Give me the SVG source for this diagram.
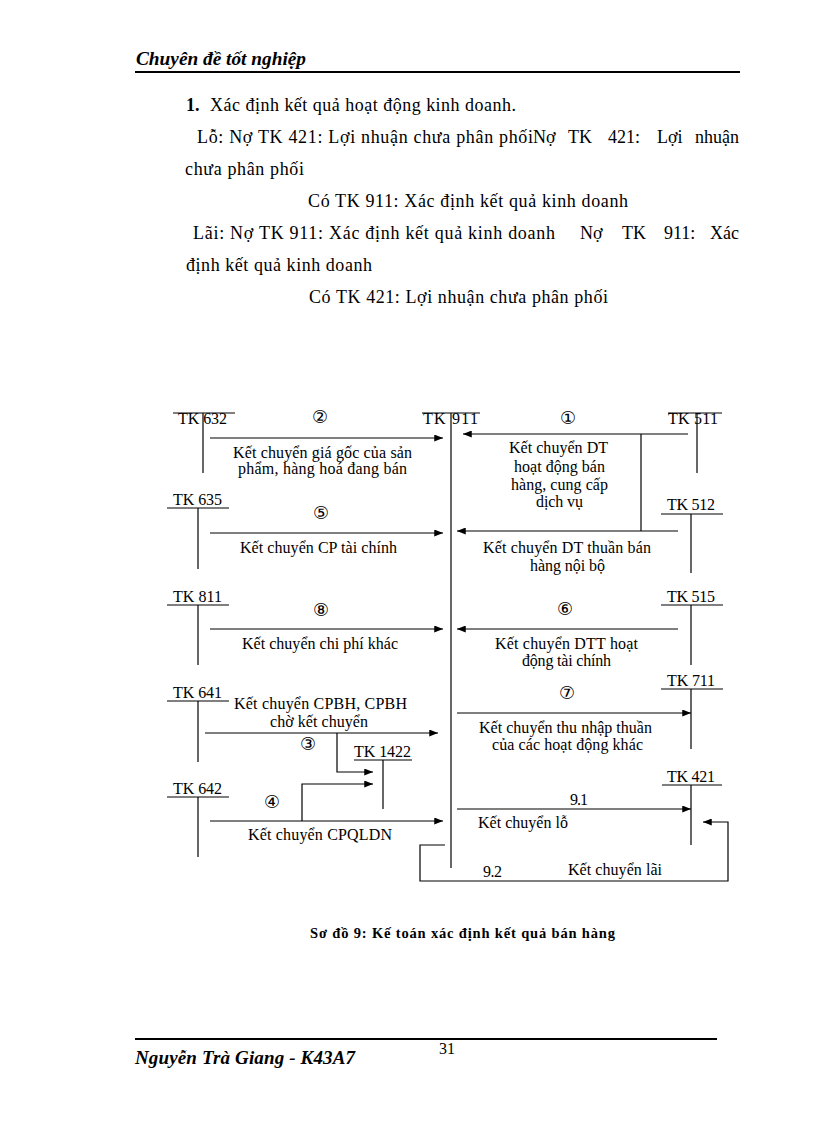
<svg xmlns="http://www.w3.org/2000/svg" width="816" height="1123" viewBox="0 0 816 1123">
<defs>
<marker id="ah" viewBox="0 0 10 8" refX="10" refY="4" markerWidth="9" markerHeight="7" markerUnits="userSpaceOnUse" orient="auto">
<path d="M0,0 L10,4 L0,8 z" fill="#000"/>
</marker>
<style>
text{font-family:"Liberation Serif","Times New Roman",serif;fill:#000}
.p{font-size:18px}
.d{font-size:16px}
.c{font-family:"DejaVu Sans",sans-serif;font-size:18px;text-anchor:middle}
.ln{stroke:#000;stroke-width:1.2;fill:none}
.ar{stroke:#000;stroke-width:1.2;fill:none;marker-end:url(#ah)}
.rule{stroke:#000;stroke-width:2}
</style>
</defs>
<rect width="816" height="1123" fill="#fff"/>

<g id="header">
<text x="136" y="65" font-size="18" font-weight="bold" font-style="italic" textLength="170" lengthAdjust="spacingAndGlyphs">Chuyên đề tốt nghiệp</text>
<line class="rule" x1="135" y1="72" x2="740" y2="72"/>
</g>

<g id="body" class="p">
<text x="186" y="111" font-weight="bold">1.</text>
<text x="210" y="111" textLength="306">Xác định kết quả hoạt động kinh doanh.</text>
<text x="197" y="143" textLength="336">Lỗ: Nợ TK 421: Lợi nhuận chưa phân phối</text>
<text x="533" y="143">Nợ</text>
<text x="568" y="143">TK</text>
<text x="608" y="143">421:</text>
<text x="657" y="143">Lợi</text>
<text x="739" y="143" text-anchor="end">nhuận</text>
<text x="185" y="175" textLength="119">chưa phân phối</text>
<text x="308" y="207" textLength="320">Có TK 911: Xác định kết quả kinh doanh</text>
<text x="193" y="239" textLength="362">Lãi: Nợ TK 911: Xác định kết quả kinh doanh</text>
<text x="580" y="239">Nợ</text>
<text x="622" y="239">TK</text>
<text x="664" y="239">911:</text>
<text x="739" y="239" text-anchor="end">Xác</text>
<text x="186" y="271" textLength="186">định kết quả kinh doanh</text>
<text x="309" y="303" textLength="299">Có TK 421: Lợi nhuận chưa phân phối</text>
</g>

<g id="tk632" class="d">
<line class="ln" x1="173" y1="413" x2="235" y2="413"/>
<line class="ln" x1="203" y1="413" x2="203" y2="473"/>
<text x="178" y="424" textLength="49">TK 632</text>
</g>
<g id="tk911" class="d">
<line class="ln" x1="422" y1="413" x2="480" y2="413"/>
<line class="ln" x1="451" y1="413" x2="451" y2="868"/>
<text x="423" y="424" textLength="55">TK 911</text>
</g>
<g id="tk511" class="d">
<line class="ln" x1="668" y1="413" x2="722" y2="413"/>
<line class="ln" x1="697" y1="413" x2="697" y2="473"/>
<text x="668" y="424" textLength="50">TK 511</text>
</g>
<g id="tk635" class="d">
<line class="ln" x1="167" y1="508" x2="229" y2="508"/>
<line class="ln" x1="198" y1="508" x2="198" y2="569"/>
<text x="173" y="505" textLength="49">TK 635</text>
</g>
<g id="tk512" class="d">
<line class="ln" x1="661" y1="514" x2="723" y2="514"/>
<line class="ln" x1="691" y1="514" x2="691" y2="573"/>
<text x="667" y="510" textLength="48">TK 512</text>
</g>
<g id="tk811" class="d">
<line class="ln" x1="167" y1="605" x2="229" y2="605"/>
<line class="ln" x1="198" y1="605" x2="198" y2="665"/>
<text x="173" y="602" textLength="49">TK 811</text>
</g>
<g id="tk515" class="d">
<line class="ln" x1="661" y1="605" x2="723" y2="605"/>
<line class="ln" x1="691" y1="605" x2="691" y2="665"/>
<text x="667" y="602" textLength="48">TK 515</text>
</g>
<g id="tk641" class="d">
<line class="ln" x1="167" y1="701" x2="229" y2="701"/>
<line class="ln" x1="198" y1="701" x2="198" y2="762"/>
<text x="173" y="698" textLength="49">TK 641</text>
</g>
<g id="tk711" class="d">
<line class="ln" x1="661" y1="689" x2="723" y2="689"/>
<line class="ln" x1="691" y1="689" x2="691" y2="749"/>
<text x="667" y="686" textLength="48">TK 711</text>
</g>
<g id="tk1422" class="d">
<line class="ln" x1="354" y1="760" x2="412" y2="760"/>
<line class="ln" x1="383" y1="760" x2="383" y2="809"/>
<text x="354" y="757" textLength="57">TK 1422</text>
</g>
<g id="tk642" class="d">
<line class="ln" x1="167" y1="797" x2="229" y2="797"/>
<line class="ln" x1="198" y1="797" x2="198" y2="857"/>
<text x="173" y="794" textLength="49">TK 642</text>
</g>
<g id="tk421" class="d">
<line class="ln" x1="662" y1="785" x2="722" y2="785"/>
<line class="ln" x1="691" y1="785" x2="691" y2="845"/>
<text x="667" y="782" textLength="48">TK 421</text>
</g>

<g id="connectors">
<path class="ar" d="M210,438 H443"/>
<path class="ar" d="M210,533 H443"/>
<path class="ar" d="M210,629 H443"/>
<path class="ar" d="M205,733 H438"/>
<path class="ar" d="M337,733 V772 H373"/>
<path class="ar" d="M210,821 H443"/>
<path class="ar" d="M302,821 V784 H373"/>
<path class="ar" d="M688,434 H463"/>
<path class="ln" d="M641,434 V531"/>
<path class="ar" d="M678,531 H457"/>
<path class="ar" d="M678,629 H457"/>
<path class="ar" d="M457,713 H691"/>
<path class="ar" d="M457,809 H691"/>
<path class="ar" d="M445,845 H420 V881 H728 V822 H703"/>
</g>

<g id="numbers">
<text class="c" x="320" y="423">②</text>
<text class="c" x="321" y="519">⑤</text>
<text class="c" x="321" y="616">⑧</text>
<text class="c" x="308" y="750">③</text>
<text class="c" x="272" y="808">④</text>
<text class="c" x="568" y="424">①</text>
<text class="c" x="565" y="615">⑥</text>
<text class="c" x="567" y="699">⑦</text>
</g>

<g id="labels" class="d">
<text x="233" y="458" textLength="179">Kết chuyển giá gốc của sản</text>
<text x="238" y="474" textLength="169">phẩm, hàng hoá đang bán</text>
<text x="240" y="553" textLength="157">Kết chuyển CP tài chính</text>
<text x="509" y="453" textLength="99">Kết chuyển DT</text>
<text x="514" y="472" textLength="91">hoạt động bán</text>
<text x="511" y="490" textLength="97">hàng, cung cấp</text>
<text x="536" y="507" textLength="47">dịch vụ</text>
<text x="483" y="553" textLength="168">Kết chuyển DT thuần bán</text>
<text x="530" y="571" textLength="75">hàng nội bộ</text>
<text x="242" y="649" textLength="156">Kết chuyển chi phí khác</text>
<text x="495" y="649" textLength="143">Kết chuyển DTT hoạt</text>
<text x="522" y="666" textLength="89">động tài chính</text>
<text x="234" y="709" textLength="173">Kết chuyển CPBH, CPBH</text>
<text x="270" y="727" textLength="98">chờ kết chuyển</text>
<text x="479" y="733" textLength="173">Kết chuyển thu nhập thuần</text>
<text x="492" y="750" textLength="151">của các hoạt động khác</text>
<text x="248" y="840" textLength="144">Kết chuyển CPQLDN</text>
<text x="570" y="805" textLength="18">9.1</text>
<text x="478" y="828" textLength="90">Kết chuyển lỗ</text>
<text x="483" y="877" textLength="19">9.2</text>
<text x="568" y="875" textLength="94">Kết chuyển lãi</text>
</g>

<g id="caption">
<text x="310" y="938" font-size="14.5" font-weight="bold" textLength="305">Sơ đồ 9: Kế toán xác định kết quả bán hàng</text>
</g>

<g id="footer">
<line class="rule" x1="135" y1="1039" x2="717" y2="1039"/>
<text x="447" y="1054" font-size="16" text-anchor="middle">31</text>
<text x="135" y="1064" font-size="19" font-weight="bold" font-style="italic" textLength="220">Nguyễn Trà Giang - K43A7</text>
</g>
</svg>
